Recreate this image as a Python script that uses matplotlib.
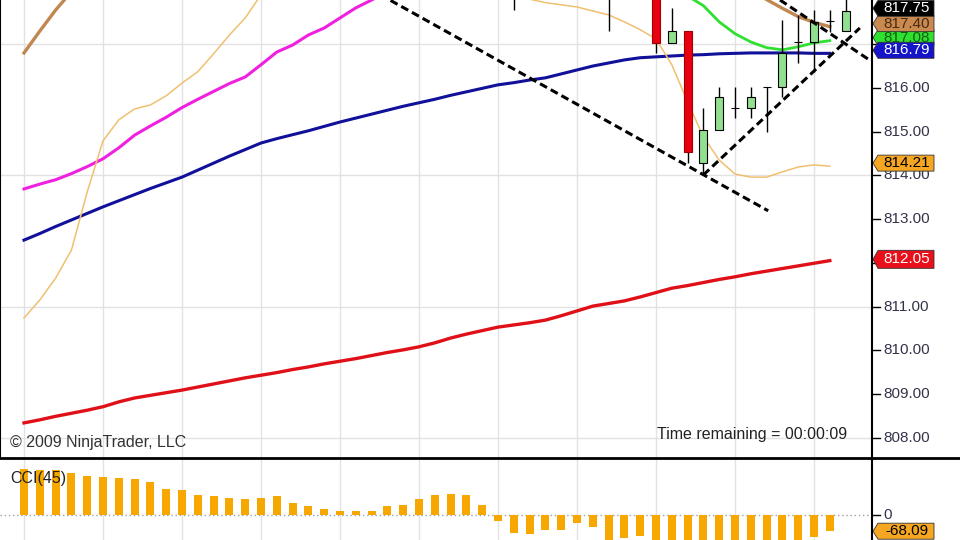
import numpy as np
import matplotlib.pyplot as plt
from matplotlib.lines import Line2D
from matplotlib.patches import Polygon

plt.rcParams['font.family'] = ['Liberation Sans', 'DejaVu Sans']

# ---- data (bar index 0..52, indicators computed up to bar 51) ----
candle_idx = list(range(31, 53))
opens  = [819.2, 818.6, 818.9, 818.5, 818.7, 818.4, 818.6, 818.3, 818.5, 818.4, 817.03,
          817.30, 814.28, 815.04, 815.54, 815.54, 816.02, 816.02, 817.05, 817.05, 817.53, 817.30]
highs  = [819.5, 819.0, 819.1, 818.9, 819.0, 818.8, 818.9, 818.7, 818.8, 818.6, 817.83,
          817.30, 815.54, 816.02, 816.02, 816.02, 816.02, 817.56, 817.67, 817.78, 817.78, 818.10]
lows   = [817.78, 818.2, 818.3, 818.2, 818.3, 818.1, 817.30, 818.1, 818.2, 816.80, 817.03,
          814.28, 814.01, 815.04, 815.31, 815.31, 815.00, 815.79, 816.57, 816.37, 817.28, 817.30]
closes = [818.6, 818.9, 818.5, 818.7, 818.4, 818.6, 818.3, 818.5, 818.4, 817.03, 817.30,
          814.54, 815.04, 815.79, 815.54, 815.79, 816.02, 816.80, 817.05, 817.51, 817.53, 817.75]

sma_red = [808.34, 808.41, 808.49, 808.56, 808.63, 808.71, 808.82, 808.91, 808.97, 809.03,
           809.09, 809.16, 809.23, 809.30, 809.37, 809.43, 809.49, 809.56, 809.62, 809.69,
           809.75, 809.81, 809.88, 809.95, 810.01, 810.08, 810.17, 810.28, 810.37, 810.45,
           810.53, 810.58, 810.63, 810.69, 810.79, 810.90, 811.01, 811.07, 811.13, 811.22,
           811.32, 811.42, 811.48, 811.55, 811.62, 811.68, 811.75, 811.81, 811.87, 811.93,
           811.99, 812.05]
sma_blue = [812.52, 812.67, 812.83, 812.98, 813.13, 813.28, 813.42, 813.56, 813.70, 813.83,
            813.96, 814.12, 814.28, 814.44, 814.59, 814.74, 814.84, 814.93, 815.02, 815.12,
            815.22, 815.31, 815.40, 815.49, 815.58, 815.66, 815.74, 815.83, 815.91, 815.99,
            816.07, 816.12, 816.18, 816.23, 816.32, 816.41, 816.50, 816.57, 816.64, 816.69,
            816.71, 816.73, 816.75, 816.76, 816.78, 816.79, 816.80, 816.80, 816.80, 816.80,
            816.79, 816.79]
sma_magenta = [813.69, 813.80, 813.90, 814.04, 814.20, 814.38, 814.63, 814.92, 815.13, 815.33,
               815.55, 815.74, 815.92, 816.10, 816.25, 816.53, 816.82, 816.98, 817.21, 817.37,
               817.60, 817.83, 818.01, 818.20]
brown_left = [816.80, 817.30, 817.78, 818.20]
brown_right_start = 46
brown_right = [818.25, 818.02, 817.82, 817.63, 817.50, 817.40]
green_start = 42
sma_green = [818.10, 817.88, 817.51, 817.24, 817.05, 816.92, 816.87, 816.94, 817.03, 817.08]
fast_left = [810.74, 811.15, 811.65, 812.29, 813.62, 814.79, 815.27, 815.52, 815.61, 815.82,
             816.11, 816.37, 816.78, 817.21, 817.60, 818.13]
fast_right_start = 32
fast_right = [818.03, 817.95, 817.90, 817.85, 817.76, 817.67, 817.51, 817.33, 817.12, 816.53,
              815.68, 814.88, 814.35, 814.03, 813.96, 813.96, 814.08, 814.19, 814.24, 814.21]

cci = [193, 189, 189, 176, 164, 158, 157, 151, 139, 109, 104, 85, 79, 73, 67, 73, 79, 49, 36,
       24, 18, 18, 18, 36, 43, 66, 85, 90, 85, 43, -25, -74, -80, -63, -63, -32, -50, -120,
       -95, -88, -150, -140, -230, -210, -190, -180, -170, -160, -130, -115, -92, -68.09]

trend_a = ([23.2, 47.1], [818.0, 813.19])
trend_b = ([43.0, 52.9], [814.01, 817.37])
trend_c = ([47.85, 53.5], [818.01, 816.64])

price_ticks = [808, 809, 810, 811, 812, 813, 814, 815, 816, 817]

# ---- layout ----
W, H = 960, 540
fig = plt.figure(figsize=(9.6, 5.4), dpi=100)
fig.patch.set_facecolor('white')

ax = fig.add_axes([0, 1 - 457 / H, 872 / W, 457 / H])
axc = fig.add_axes([0, 0, 872 / W, 82 / H])
axr = fig.add_axes([872 / W, 1 - 457 / H, 88 / W, 457 / H])
axcr = fig.add_axes([872 / W, 0, 88 / W, 82 / H])

xlim = (-1.52, 53.67)
ax.set_xlim(xlim)
ax.set_ylim(807.56, 818.01)
axc.set_xlim(xlim)
axc.set_ylim(-105, 239)
axr.set_xlim(0, 88)
axr.set_ylim(ax.get_ylim())
axcr.set_xlim(0, 88)
axcr.set_ylim(axc.get_ylim())

for a in (ax, axc):
    a.set_xticks(range(0, 53, 5))
    a.tick_params(length=0, labelbottom=False, labelleft=False)
    a.grid(True, axis='x', color='#e2e2e2', lw=1)
    for s in a.spines.values():
        s.set_visible(False)
ax.set_yticks([808, 811, 814, 817])
ax.grid(True, axis='y', color='#e2e2e2', lw=1)
axc.set_yticks([])
ax.spines['left'].set_visible(True)
ax.spines['left'].set_linewidth(1.5)
for a in (axr, axcr):
    a.axis('off')

# moving averages
ax.plot(range(52), sma_red, color='#e01018', lw=2.4, zorder=2)
ax.plot(range(52), sma_blue, color='#10109a', lw=2.2, zorder=2)
ax.plot(range(len(sma_magenta)), sma_magenta, color='#f020e0', lw=2.2, zorder=2)
ax.plot(range(len(brown_left)), brown_left, color='#c08850', lw=2.4, zorder=2)
ax.plot(range(brown_right_start, 52), brown_right, color='#c08850', lw=2.4, zorder=2)
ax.plot(range(green_start, 52), sma_green, color='#30e030', lw=2.0, zorder=2)
ax.plot(range(len(fast_left)), fast_left, color='#f0c070', lw=1.1, zorder=2)
ax.plot(range(fast_right_start, 52), fast_right, color='#f0c070', lw=1.1, zorder=2)

# candles
for i, o, h, l, c in zip(candle_idx, opens, highs, lows, closes):
    ax.vlines(i, l, h, color='black', lw=1, zorder=3)
    up = c >= o
    ax.bar(i, abs(c - o), bottom=min(o, c), width=0.5,
           color='#90e090' if up else '#e80010',
           edgecolor='black' if up else '#a00000', lw=0.8, zorder=4)

# drawn trend lines
for xs, ys in (trend_a, trend_b, trend_c):
    ax.plot(xs, ys, color='black', lw=2.2, ls=(0, (2.6, 1.4)), zorder=5)

# CCI
axc.bar(range(52), cci, width=0.5, color='#f7a800', zorder=2)
axc.axhline(0, color='#a0a0a0', lw=1, ls=(0, (1, 2)), zorder=1)
fig.text(10 / W, 1 - 479 / H, 'CCI(45)', fontsize=11.5, va='center', color='#222222', zorder=5)

# right scale
for v in price_ticks:
    axr.plot([0, 8], [v, v], color='black', lw=1, zorder=1)
    axr.text(11, v, f'{v:.2f}', fontsize=11, va='center', color='#33334a', zorder=1)
axcr.plot([0, 8], [0, 0], color='black', lw=1)
axcr.text(11, 0, '0', fontsize=11, va='center', color='#33334a')


def tag(a, y, text, bg, fg, half, z):
    a.add_patch(Polygon([(1, y), (6, y + half), (62, y + half), (62, y - half), (6, y - half)],
                        closed=True, facecolor=bg, edgecolor='#333333', lw=0.6, zorder=z))
    a.text(35, y, text, ha='center', va='center', fontsize=11, color=fg, zorder=z + 0.1)


hp = 8 / 43.7
tag(axr, sma_green[-1] + 0.07, f'{sma_green[-1]:.2f}', '#30e030', '#106010', hp, 3)
tag(axr, closes[-1] + 0.07, f'{closes[-1]:.2f}', 'black', 'white', hp, 6)
tag(axr, brown_right[-1] + 0.07, f'{brown_right[-1]:.2f}', '#c88a50', '#4a2a10', hp, 5)
tag(axr, sma_blue[-1] + 0.07, f'{sma_blue[-1]:.2f}', '#1414c8', 'white', hp, 7)
tag(axr, fast_right[-1] + 0.07, f'{fast_right[-1]:.2f}', '#f5a623', 'black', hp, 5)
tag(axr, sma_red[-1] + 0.03, f'{sma_red[-1]:.2f}', '#e8101a', 'white', 9 / 43.7, 5)
tag(axcr, cci[-1], f'{cci[-1]:.2f}', '#f5a623', 'black', 8 * 4.2, 5)

# frame lines and captions
fig.add_artist(Line2D([872 / W, 872 / W], [0, 1], transform=fig.transFigure, color='black', lw=1.5))
fig.add_artist(Line2D([0, 1], [1 - 457.5 / H] * 2, transform=fig.transFigure, color='black', lw=2))
fig.text(10 / W, 1 - 443 / H, '\u00a9 2009 NinjaTrader, LLC', fontsize=11.5, va='center', color='#333333')
fig.text(847 / W, 1 - 435 / H, 'Time remaining = 00:00:09', ha='right', va='center',
         fontsize=11.5, color='#222222')

fig.savefig('out.png', dpi=100)
